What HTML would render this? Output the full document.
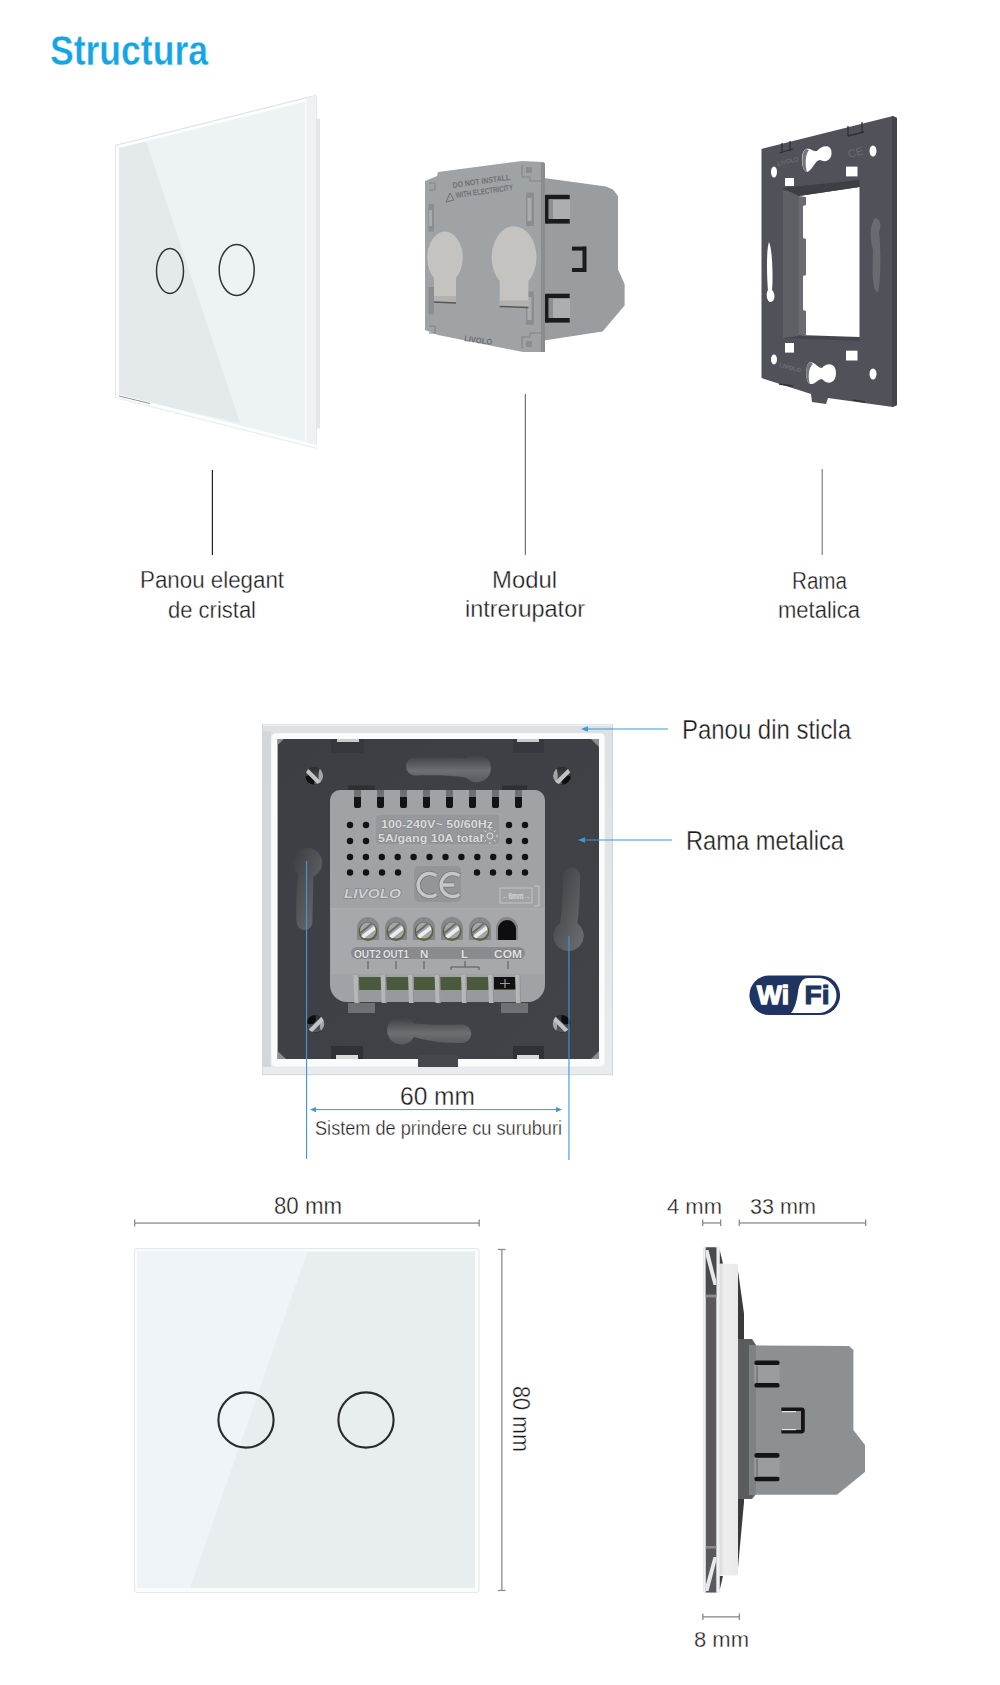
<!DOCTYPE html>
<html><head><meta charset="utf-8">
<style>
html,body{margin:0;padding:0;background:#fff;}
body{width:1000px;height:1685px;overflow:hidden;position:relative;}
svg{position:absolute;left:0;top:0;display:block;}
text{font-family:"Liberation Sans",sans-serif;}
</style></head>
<body>
<svg width="1000" height="1685" viewBox="0 0 1000 1685">
<defs>
<linearGradient id="khv" x1="0" y1="0" x2="0" y2="1"><stop offset="0" stop-color="#3a3b3f"/><stop offset="0.6" stop-color="#6e6f72"/><stop offset="1" stop-color="#58595c"/></linearGradient>
<linearGradient id="khd" x1="0" y1="0" x2="1" y2="1"><stop offset="0" stop-color="#3b3c40"/><stop offset="1" stop-color="#6e6f72"/></linearGradient>
<linearGradient id="kh" x1="0" y1="0" x2="0" y2="1"><stop offset="0" stop-color="#6c6d71"/><stop offset="1" stop-color="#5a5b5f"/></linearGradient>
<linearGradient id="khh" x1="0" y1="0" x2="1" y2="0"><stop offset="0" stop-color="#606165"/><stop offset="1" stop-color="#76777b"/></linearGradient>
<linearGradient id="plate" x1="0" y1="0" x2="1" y2="1"><stop offset="0" stop-color="#3d3e44"/><stop offset="1" stop-color="#424349"/></linearGradient>
<clipPath id="sc0"><circle cx="314.2" cy="775.8" r="8.9"/></clipPath>
<clipPath id="sc1"><circle cx="562" cy="775.8" r="8.9"/></clipPath>
<clipPath id="sc2"><circle cx="315.4" cy="1023.8" r="8.9"/></clipPath>
<clipPath id="sc3"><circle cx="561.6" cy="1023.8" r="8.9"/></clipPath>
<linearGradient id="scg" x1="0" y1="0" x2="0" y2="1"><stop offset="0" stop-color="#2b2c2f"/><stop offset="1" stop-color="#5c5d60"/></linearGradient>
<linearGradient id="glassg" x1="0" y1="0" x2="0" y2="1"><stop offset="0" stop-color="#dde1e4"/><stop offset="1" stop-color="#e9ecee"/></linearGradient>
<linearGradient id="wstrip" x1="0" y1="0" x2="1" y2="0"><stop offset="0" stop-color="#d9d9da"/><stop offset="0.25" stop-color="#eeeeef"/><stop offset="1" stop-color="#e9e9ea"/></linearGradient>
</defs>
<!-- TITLE -->
<text x="50" y="64.5" font-size="42.5" font-weight="bold" fill="#15a5e5" stroke="#fff" stroke-width="0.35" textLength="158" lengthAdjust="spacingAndGlyphs">Structura</text>

<!-- S1: PANEL -->
<g id="panel1">
<polygon points="316,118 320,119 320,428 316,429" fill="#e3e7e9"/>
<polygon points="115,145 316,95 317,448 115,397" fill="#edf2f5"/>
<polygon points="119,147 146,141 240,423 119,396" fill="#e4e9ec"/>
<polygon points="115,146 306,98.5 306,101.5 119,148" fill="#ffffff"/>
<line x1="115" y1="145.5" x2="316" y2="95.3" stroke="#dde2e5" stroke-width="1"/>
<polygon points="115,146 119,147 119,397 115,397" fill="#fafcfd"/>
<line x1="115.5" y1="146" x2="115.5" y2="397" stroke="#e1e6e9" stroke-width="1"/>
<polygon points="305.5,98.5 316,95.5 317,448 305.5,445.5" fill="#eef2f4"/>
<line x1="305.8" y1="99" x2="305.8" y2="445" stroke="#fbfcfd" stroke-width="1.2"/>
<line x1="316.5" y1="96" x2="316.5" y2="448" stroke="#e0e5e8" stroke-width="0.8"/>
<polygon points="115,397 317,448 317,445 119,394.5" fill="#fdfefe"/>
<line x1="115" y1="397.5" x2="317" y2="448.5" stroke="#dfe4e7" stroke-width="0.8"/>
<line x1="119" y1="396" x2="150" y2="403.5" stroke="#8f9599" stroke-width="1"/>
<ellipse cx="170" cy="271" rx="13.5" ry="22.5" fill="none" stroke="#333337" stroke-width="1.5"/>
<ellipse cx="236.7" cy="270" rx="17.5" ry="25.5" fill="none" stroke="#333337" stroke-width="1.5"/>
</g>
<!-- S1: MODULE -->
<g id="module1">
<polygon points="544,178 606,186.5 613,189.5 618,196 618,269.4 624.6,284 624.6,305.4 602.6,331.4 544,340.4" fill="#9a9da0"/>
<polygon points="425,181 437,176 438,172 522,161 544,162 544,352 523,352 438,335 425,330" fill="#a0a3a6"/>
<g fill="none" stroke="#7f8285" stroke-width="1">
<path d="M429,183 h6 v7 h-6"/><path d="M429,326 h6 v7 h-6"/>
<path d="M522,165 v12 h8 v4 h13"/><path d="M522,349 v-12 h8 v-4 h13"/>
</g>
<rect x="526" y="167" width="6" height="6" fill="#8a8d90"/><rect x="526" y="341" width="6" height="6" fill="#8a8d90"/>
<polygon points="541,163 545,163 545,352 541,352" fill="#8a8d90"/>
<rect x="428.4" y="204" width="5.6" height="27.6" fill="#8b8e91"/>
<rect x="428.4" y="287" width="5.6" height="27.4" fill="#8b8e91"/>
<rect x="526" y="192.5" width="8" height="33.5" fill="#8b8e91" rx="1"/>
<rect x="526" y="291.4" width="8" height="33.4" fill="#8b8e91" rx="1"/>
<rect x="429" y="210" width="3" height="16" fill="#a9abae"/>
<rect x="527.5" y="198" width="4" height="23" fill="#a9abae"/>
<rect x="527.5" y="297" width="4" height="23" fill="#a9abae"/>
<path d="M434,301.8 L434,278 A17.8,26 0 1 1 456,278 L456,301.8 Z" fill="#c4c3c0"/>
<path d="M499.7,306.4 L499.7,281 A22.4,31 0 1 1 528.4,281 L528.4,306.4 Z" fill="#c4c3c0"/>
<rect x="434" y="296" width="22" height="6" fill="#b3b2af"/>
<rect x="499.7" y="300.5" width="28.7" height="6" fill="#b3b2af"/>
<line x1="434" y1="302" x2="456" y2="303" stroke="#55585b" stroke-width="1.5"/>
<line x1="499.7" y1="306.5" x2="528.4" y2="307.5" stroke="#55585b" stroke-width="1.5"/>
<g fill="#1a1b1d">
<rect x="545.7" y="194.8" width="24" height="4.6"/>
<rect x="545.7" y="219" width="24" height="4.6"/>
<rect x="545" y="195" width="3.5" height="28.5"/>
<rect x="572" y="246.6" width="14" height="4"/>
<rect x="572" y="268" width="14" height="4"/>
<rect x="582.5" y="246.6" width="4" height="25.4"/>
<rect x="545.7" y="293.7" width="24" height="4.6"/>
<rect x="545.7" y="318" width="24" height="4.6"/>
<rect x="545" y="294" width="3.5" height="28.5"/>
</g>
<rect x="549" y="199.5" width="21" height="19.5" fill="#acafb1"/>
<rect x="549" y="298.5" width="21" height="19.5" fill="#acafb1"/>
<rect x="549" y="199.5" width="4" height="19.5" fill="#8c8f92"/>
<rect x="549" y="298.5" width="4" height="19.5" fill="#8c8f92"/>
<g fill="#6e7174" font-weight="bold">
<text x="453" y="188" font-size="8" transform="rotate(-8 453 188)" textLength="58" lengthAdjust="spacingAndGlyphs">DO NOT INSTALL</text>
<text x="456" y="198" font-size="8" transform="rotate(-8 456 198)" textLength="58" lengthAdjust="spacingAndGlyphs">WITH ELECTRICITY</text>
<text x="464" y="341" font-size="8" transform="rotate(8 464 341)" textLength="28" lengthAdjust="spacingAndGlyphs">LIVOLO</text>
</g>
<polygon points="446,202 450,193 454,200" fill="none" stroke="#6e7174" stroke-width="1"/>
</g>
<!-- S1: FRAME -->
<g id="frame1">
<polygon points="761.5,149 893,116 897,118 897,405 893,407 828,398 826,404 812,402 811,394 761.5,378" fill="#515259"/>
<polygon points="892,116 897,118 897,405 892,407" fill="#44454b"/>
<polygon points="783,188 859.5,180 859.5,341 783,338" fill="#45464c"/>
<polygon points="798.8,196 859.5,187 859.5,337 798.8,335" fill="#ffffff"/>
<polygon points="783,190 798.8,194 798.8,336 783,338" fill="#5e5f65"/>
<polygon points="798.8,196 806,197 806,205 803,206 803,238 806,239 806,275 803,276 803,310 806,311 806,335 798.8,335" fill="#6b6c72"/>
<polygon points="783,188 859.5,180 859.5,187 798.8,196" fill="#3e3f45"/>
<path d="M806,149 C811,148 813,152 817,151 C822,145 831,144 831.5,152 C832,160 826,163 820,160 C815,160 813,170 807,172 C801,171 800,151 806,149Z" fill="#ffffff"/><path d="M806,149 C801,151 801,171 807,172 C805,165 805,155 809,150Z" fill="#75767b"/>
<path d="M810,362 C816,363 818,368 822,368 C827,362 836,363 836,373 C836,384 827,385 822,379 C818,379 815,385 810,384 C805,382 805,364 810,362Z" fill="#ffffff"/><path d="M810,362 C805,364 805,382 810,384 C808,378 808,368 813,364Z" fill="#75767b"/>
<ellipse cx="873" cy="151" rx="3.5" ry="5.5" fill="#ffffff"/>
<ellipse cx="774" cy="172" rx="3" ry="5.5" fill="#ffffff"/>
<ellipse cx="873" cy="374" rx="3.5" ry="5.5" fill="#ffffff"/>
<ellipse cx="774" cy="359.5" rx="3" ry="5" fill="#ffffff"/>
<path d="M769,242 C773,250 773,285 772,290 C776,294 775,302 770,302 C766,300 766,293 768,290 C767,280 766,250 769,242Z" fill="#ffffff"/>
<path d="M875,218 C880,218 882,226 879,232 C881,250 881,280 878,292 C873,292 872,280 873,250 C870,240 869,226 875,218Z" fill="#6a6b71"/>
<rect x="785" y="178" width="9" height="8" fill="#ffffff"/>
<rect x="846" y="166.6" width="11.5" height="9.8" fill="#ffffff"/>
<rect x="785" y="343" width="9" height="9.6" fill="#ffffff"/>
<rect x="846" y="350.7" width="11.5" height="9.8" fill="#ffffff"/>
<g fill="none" stroke="#2f3035" stroke-width="1.3">
<path d="M779,153 L793,149"/><path d="M848,136 L864,132"/><path d="M779,384 L793,386"/><path d="M853,400 L865,402"/>
<path d="M782,143v10M790,141v10M848,126v10M862,122v10"/>
</g>
<text x="778" y="166" font-size="6" fill="#75767c" transform="rotate(-14 778 166)">LIVOLO</text>
<text x="849" y="158" font-size="11" fill="#6c6d73" transform="rotate(-14 849 158)">CE</text>
<text x="779" y="367" font-size="6" font-weight="bold" fill="#707177" transform="rotate(14 779 367)" textLength="22" lengthAdjust="spacingAndGlyphs">LIVOLO</text>
</g>

<!-- S1 LINES + LABELS -->
<g fill="#1a1a1a" font-size="24.5" stroke="#fff" stroke-width="0.35">
<rect x="211.8" y="470" width="1.2" height="85" fill="#222" stroke="none"/>
<rect x="524.8" y="394" width="1" height="161" fill="#555" stroke="none"/>
<rect x="821.7" y="469" width="1" height="86" fill="#666" stroke="none"/>
<text x="140" y="588" textLength="144" lengthAdjust="spacingAndGlyphs">Panou elegant</text>
<text x="168" y="618" textLength="88" lengthAdjust="spacingAndGlyphs">de cristal</text>
<text x="492" y="588" textLength="65" lengthAdjust="spacingAndGlyphs">Modul</text>
<text x="465" y="617" textLength="120" lengthAdjust="spacingAndGlyphs">intrerupator</text>
<text x="792" y="589" textLength="55" lengthAdjust="spacingAndGlyphs">Rama</text>
<text x="778" y="618" textLength="82" lengthAdjust="spacingAndGlyphs">metalica</text>
</g>

<!-- S2: BACK VIEW -->
<g id="back">
<rect x="262.4" y="724" width="350.6" height="351" fill="url(#glassg)"/>
<rect x="262.9" y="731" width="8" height="336" fill="#d3d7da"/>
<rect x="262.6" y="724.4" width="350" height="350.4" fill="none" stroke="#d0d4d7" stroke-width="0.9"/>
<rect x="263" y="724.5" width="349" height="1.2" fill="#f6f7f8"/>
<rect x="271" y="733" width="334" height="334" rx="5" fill="#fafbfb" stroke="#e3e6e8" stroke-width="0.6"/>
<rect x="277.6" y="739" width="321.4" height="320" fill="url(#plate)"/>
<rect x="418" y="1055" width="40" height="12" fill="#46474d"/>
<polygon points="277.6,739 284,739 277.6,745" fill="#8d8e92"/>
<polygon points="599,739 591,739 599,747" fill="#8d8e92"/>
<polygon points="277.6,1059 286,1059 277.6,1051" fill="#8d8e92"/>
<polygon points="599,1059 591,1059 599,1051" fill="#8d8e92"/>
<rect x="331" y="739" width="33" height="14" fill="#37383d"/>
<rect x="337" y="739" width="22" height="3" fill="#c9cacc"/>
<rect x="513" y="739" width="31" height="14" fill="#37383d"/>
<rect x="517" y="739" width="22" height="3" fill="#c9cacc"/>
<rect x="331" y="1046" width="32" height="13" fill="#303135"/>
<rect x="513" y="1046" width="31" height="13" fill="#303135"/>
<rect x="336" y="1055" width="22" height="4" fill="#d9dadc"/>
<rect x="517" y="1055" width="22" height="4" fill="#d9dadc"/>
<path d="M476.8,753.7 A14.3,14.3 0 1 1 466,777.5 C450,775 432,775 415,775.5 A9,9 0 0 1 415,757.5 C432,757 450,757 466,758.5 A14.3,14.3 0 0 1 476.8,753.7Z" fill="url(#khv)"/>
<path d="M401.5,1016 A14.3,14.3 0 0 1 414,1023.5 C430,1025 448,1025 462,1024.5 A9,9 0 0 1 462,1043 C448,1043 430,1042 414,1037 A14.3,14.3 0 1 1 401.5,1016Z" fill="url(#khv)"/>
<path d="M298,874.3 A14.85,14.85 0 1 1 313.5,876.3 C313,895 312.5,912 312.5,922 A8,8 0 0 1 296.5,922 C296,910 296,892 298,874.3Z" fill="url(#khd)"/>
<path d="M563,876 A8.5,8.5 0 0 1 580,876 C580,895 579,910 577.5,923.5 A15.2,15.2 0 1 1 560,923.2 C562,910 563,893 563,876Z" fill="url(#khd)"/>

<g clip-path="url(#sc0)"><circle cx="314.2" cy="775.8" r="8.9" fill="url(#scg)" stroke="#262629" stroke-width="1"/><circle cx="309.2" cy="780.8" r="5.5" fill="#0e0e10"/><ellipse cx="321.7" cy="775.8" rx="3.2" ry="9" fill="#a4a5a7"/><line x1="305.2" y1="768.8" x2="321.2" y2="784.8" stroke="#c2c3c4" stroke-width="4.2"/></g>
<g clip-path="url(#sc1)"><circle cx="562" cy="775.8" r="8.9" fill="url(#scg)" stroke="#262629" stroke-width="1"/><circle cx="567" cy="780.8" r="5.5" fill="#0e0e10"/><ellipse cx="554.5" cy="775.8" rx="3.2" ry="9" fill="#a4a5a7"/><line x1="555" y1="784.8" x2="571" y2="768.8" stroke="#c2c3c4" stroke-width="4.2"/></g>
<g clip-path="url(#sc2)"><circle cx="315.4" cy="1023.8" r="8.9" fill="url(#scg)" stroke="#262629" stroke-width="1"/><circle cx="310.4" cy="1018.8" r="5.5" fill="#0e0e10"/><ellipse cx="322.9" cy="1023.8" rx="3.2" ry="9" fill="#a4a5a7"/><line x1="308.4" y1="1032.8" x2="324.4" y2="1016.8" stroke="#c2c3c4" stroke-width="4.2"/></g>
<g clip-path="url(#sc3)"><circle cx="561.6" cy="1023.8" r="8.9" fill="url(#scg)" stroke="#262629" stroke-width="1"/><circle cx="566.6" cy="1018.8" r="5.5" fill="#0e0e10"/><ellipse cx="554.1" cy="1023.8" rx="3.2" ry="9" fill="#a4a5a7"/><line x1="552.6" y1="1016.8" x2="568.6" y2="1032.8" stroke="#c2c3c4" stroke-width="4.2"/></g>
<rect x="348" y="785.5" width="27" height="5" fill="#2e2f33"/><rect x="502" y="785.5" width="25" height="5" fill="#2e2f33"/>
<path d="M340,790 L535,790 A10,10 0 0 1 545,800 L545,985 A17,17 0 0 1 528,1002 L347,1002 A17,17 0 0 1 330,985 L330,800 A10,10 0 0 1 340,790Z" fill="#a0a2a5"/>
<rect x="330" y="908" width="215" height="2" fill="#a8aaad"/>
<rect x="331" y="910" width="213" height="64" fill="#a6a8ab"/>
<rect x="354" y="790" width="7" height="18" rx="2" fill="#141416"/><rect x="354" y="790" width="7" height="7" fill="#6e7073"/>
<rect x="377" y="790" width="7" height="18" rx="2" fill="#141416"/><rect x="377" y="790" width="7" height="7" fill="#6e7073"/>
<rect x="400" y="790" width="7" height="18" rx="2" fill="#141416"/><rect x="400" y="790" width="7" height="7" fill="#6e7073"/>
<rect x="423" y="790" width="7" height="18" rx="2" fill="#141416"/><rect x="423" y="790" width="7" height="7" fill="#6e7073"/>
<rect x="446" y="790" width="7" height="18" rx="2" fill="#141416"/><rect x="446" y="790" width="7" height="7" fill="#6e7073"/>
<rect x="469" y="790" width="7" height="18" rx="2" fill="#141416"/><rect x="469" y="790" width="7" height="7" fill="#6e7073"/>
<rect x="492" y="790" width="7" height="18" rx="2" fill="#141416"/><rect x="492" y="790" width="7" height="7" fill="#6e7073"/>
<rect x="515" y="790" width="7" height="18" rx="2" fill="#141416"/><rect x="515" y="790" width="7" height="7" fill="#6e7073"/>
<rect x="375" y="814" width="125" height="31" rx="4" fill="#96989b" stroke="#a9abae" stroke-width="0.8"/>
<g fill="#dadbdc" font-weight="bold" font-size="11.5" stroke="#808285" stroke-width="1.1" paint-order="stroke">
<text x="381" y="828" textLength="112" lengthAdjust="spacingAndGlyphs">100-240V~  50/60Hz</text>
<text x="378" y="842" textLength="105" lengthAdjust="spacingAndGlyphs">5A/gang 10A total</text>
</g>
<g fill="none" stroke="#dcdddf" stroke-width="1"><circle cx="490" cy="836" r="3"/><path d="M490,830v-2M490,842v2M484,836h-2M496,836h2M486,832l-1.5,-1.5M494,832l1.5,-1.5M486,840l-1.5,1.5M494,840l1.5,1.5"/></g>
<g fill="#121214">
<circle cx="350.0" cy="825" r="3.2"/>
<circle cx="366.0" cy="825" r="3.2"/>
<circle cx="509.0" cy="825" r="3.2"/>
<circle cx="525.0" cy="825" r="3.2"/>
<circle cx="350.0" cy="841" r="3.2"/>
<circle cx="366.0" cy="841" r="3.2"/>
<circle cx="509.0" cy="841" r="3.2"/>
<circle cx="525.0" cy="841" r="3.2"/>
<circle cx="350.0" cy="857" r="3.2"/>
<circle cx="365.9" cy="857" r="3.2"/>
<circle cx="381.8" cy="857" r="3.2"/>
<circle cx="397.7" cy="857" r="3.2"/>
<circle cx="413.6" cy="857" r="3.2"/>
<circle cx="429.5" cy="857" r="3.2"/>
<circle cx="445.5" cy="857" r="3.2"/>
<circle cx="461.4" cy="857" r="3.2"/>
<circle cx="477.3" cy="857" r="3.2"/>
<circle cx="493.2" cy="857" r="3.2"/>
<circle cx="509.1" cy="857" r="3.2"/>
<circle cx="525.0" cy="857" r="3.2"/>
<circle cx="350.0" cy="872.5" r="3.2"/>
<circle cx="366.0" cy="872.5" r="3.2"/>
<circle cx="382.0" cy="872.5" r="3.2"/>
<circle cx="398.0" cy="872.5" r="3.2"/>
<circle cx="477.0" cy="872.5" r="3.2"/>
<circle cx="493.0" cy="872.5" r="3.2"/>
<circle cx="509.0" cy="872.5" r="3.2"/>
<circle cx="525.0" cy="872.5" r="3.2"/>
</g>
<rect x="414" y="866" width="47" height="36" rx="5" fill="#939598"/>
<g fill="none" stroke="#75777a" stroke-width="5"><path d="M436.4,875.7 A11.5,11.5 0 1 0 436.4,894.3"/><path d="M459.4,875.7 A11.5,11.5 0 1 0 459.4,894.3M443,885h11"/></g><g fill="none" stroke="#c6c7c9" stroke-width="3.4"><path d="M436.4,875.7 A11.5,11.5 0 1 0 436.4,894.3"/><path d="M459.4,875.7 A11.5,11.5 0 1 0 459.4,894.3M443,885h11"/></g>
<text x="344" y="898" font-size="12.5" font-weight="bold" font-style="italic" fill="#d0d1d3" stroke="#76787b" stroke-width="1" paint-order="stroke" textLength="57" lengthAdjust="spacingAndGlyphs">LIVOLO</text>
<g fill="none" stroke="#c3c4c6" stroke-width="1"><rect x="500" y="888" width="32" height="15"/><path d="M534,886h5v20h-5"/></g>
<text x="502" y="899" font-size="8.5" font-weight="bold" fill="#d5d6d8" textLength="28" lengthAdjust="spacingAndGlyphs">←6mm→</text>

<path d="M357,940 L357,928 A11,11 0 0 1 379,928 L379,940 Z" fill="#85878a"/><circle cx="368" cy="931.5" r="9.5" fill="#55663f"/><circle cx="368" cy="930.5" r="8" fill="#a5a6a7"/><path d="M361,936 L374,926 L375.5,929.5 L364,938.5Z" fill="#ececec"/><path d="M360,932 L371,923 L373,924 L361,934Z" fill="#6b6c6e"/>
<path d="M385,940 L385,928 A11,11 0 0 1 407,928 L407,940 Z" fill="#85878a"/><circle cx="396" cy="931.5" r="9.5" fill="#55663f"/><circle cx="396" cy="930.5" r="8" fill="#a5a6a7"/><path d="M389,936 L402,926 L403.5,929.5 L392,938.5Z" fill="#ececec"/><path d="M388,932 L399,923 L401,924 L389,934Z" fill="#6b6c6e"/>
<path d="M413,940 L413,928 A11,11 0 0 1 435,928 L435,940 Z" fill="#85878a"/><circle cx="424" cy="931.5" r="9.5" fill="#55663f"/><circle cx="424" cy="930.5" r="8" fill="#a5a6a7"/><path d="M417,936 L430,926 L431.5,929.5 L420,938.5Z" fill="#ececec"/><path d="M416,932 L427,923 L429,924 L417,934Z" fill="#6b6c6e"/>
<path d="M441,940 L441,928 A11,11 0 0 1 463,928 L463,940 Z" fill="#85878a"/><circle cx="452" cy="931.5" r="9.5" fill="#55663f"/><circle cx="452" cy="930.5" r="8" fill="#a5a6a7"/><path d="M445,936 L458,926 L459.5,929.5 L448,938.5Z" fill="#ececec"/><path d="M444,932 L455,923 L457,924 L445,934Z" fill="#6b6c6e"/>
<path d="M469,940 L469,928 A11,11 0 0 1 491,928 L491,940 Z" fill="#85878a"/><circle cx="480" cy="931.5" r="9.5" fill="#55663f"/><circle cx="480" cy="930.5" r="8" fill="#a5a6a7"/><path d="M473,936 L486,926 L487.5,929.5 L476,938.5Z" fill="#ececec"/><path d="M472,932 L483,923 L485,924 L473,934Z" fill="#6b6c6e"/>
<path d="M496,940 L496,928 A11,11 0 0 1 518,928 L518,940 Z" fill="#85878a"/><path d="M498,940 L498,929 A9,9 0 0 1 516,929 L516,940 Z" fill="#0e0e10"/>
<rect x="351" y="947" width="174" height="12" rx="6" fill="#898b8e"/>
<g fill="#e0e1e2" font-size="11.5" font-weight="bold" stroke="#6d6f72" stroke-width="1" paint-order="stroke">
<text x="354" y="957.5" textLength="27" lengthAdjust="spacingAndGlyphs">OUT2</text>
<text x="383" y="957.5" textLength="26" lengthAdjust="spacingAndGlyphs">OUT1</text>
<text x="420" y="957.5">N</text>
<text x="461" y="957.5">L</text>
<text x="494" y="957.5" textLength="28" lengthAdjust="spacingAndGlyphs">COM</text>
</g>
<g stroke="#55575a" stroke-width="1" fill="none">
<path d="M368,961v8M396,961v8M424,961v8M508,961v8M465,961v6M451,970v-3h28v3"/>
</g>
<rect x="358" y="977" width="158" height="13" fill="#4b5a3c"/>
<rect x="494" y="977" width="22" height="12" fill="#111"/>
<path d="M505,979v9M500,983.5h10" stroke="#9a9c9f" stroke-width="1.2"/>
<rect x="358" y="990" width="158" height="12" fill="#97999c"/>

<path d="M353.4,975 L358.9,975 L359.4,1003 L354.4,1003Z" fill="#b4b6b8"/><path d="M357.9,975 L358.9,975 L359.4,1003 L358.4,1003Z" fill="#8d8f92"/><path d="M380.6,975 L386.1,975 L386.6,1003 L381.6,1003Z" fill="#b4b6b8"/><path d="M385.1,975 L386.1,975 L386.6,1003 L385.6,1003Z" fill="#8d8f92"/><path d="M408,975 L413.5,975 L414,1003 L409,1003Z" fill="#b4b6b8"/><path d="M412.5,975 L413.5,975 L414,1003 L413,1003Z" fill="#8d8f92"/><path d="M434.6,975 L440.1,975 L440.6,1003 L435.6,1003Z" fill="#b4b6b8"/><path d="M439.1,975 L440.1,975 L440.6,1003 L439.6,1003Z" fill="#8d8f92"/><path d="M461,975 L466.5,975 L467,1003 L462,1003Z" fill="#b4b6b8"/><path d="M465.5,975 L466.5,975 L467,1003 L466,1003Z" fill="#8d8f92"/><path d="M488,975 L493.5,975 L494,1003 L489,1003Z" fill="#b4b6b8"/><path d="M492.5,975 L493.5,975 L494,1003 L493,1003Z" fill="#8d8f92"/><path d="M515,975 L520.5,975 L521,1003 L516,1003Z" fill="#b4b6b8"/><path d="M519.5,975 L520.5,975 L521,1003 L520,1003Z" fill="#8d8f92"/>
<rect x="348" y="1003" width="27" height="10" fill="#6f7074"/>
<rect x="501" y="1003" width="27" height="10" fill="#6f7074"/>
</g>
<g id="blue" stroke="#3f98d3" fill="#3f98d3">
<rect x="306" y="861" width="1.1" height="298" stroke="none"/>
<rect x="568.4" y="936" width="1.1" height="224" stroke="none"/>
<line x1="314" y1="1109.6" x2="558" y2="1109.6" stroke-width="1"/>
<polygon points="310,1109.6 316,1107 316,1112.2" stroke="none"/>
<polygon points="562,1109.6 556,1107 556,1112.2" stroke="none"/>
<line x1="586" y1="729" x2="668" y2="729" stroke-width="1.2"/>
<polygon points="581,729 588,726.3 588,731.7" stroke="none"/>
<line x1="583" y1="840" x2="672" y2="840" stroke-width="1.2"/>
<polygon points="578,840 585,837.3 585,842.7" stroke="none"/>
</g>
<g fill="#1a1a1a" stroke="#fff" stroke-width="0.35">
<text x="682" y="739" font-size="27" textLength="169" lengthAdjust="spacingAndGlyphs">Panou din sticla</text>
<text x="686" y="850" font-size="27" textLength="158" lengthAdjust="spacingAndGlyphs">Rama metalica</text>
<text x="400" y="1105" font-size="25" textLength="75" lengthAdjust="spacingAndGlyphs">60 mm</text>
<text x="315" y="1134.5" font-size="19.5" textLength="247" lengthAdjust="spacingAndGlyphs">Sistem de prindere cu suruburi</text>
</g>

<!-- WIFI -->
<g id="wifi">
<rect x="749.4" y="975.5" width="90.7" height="39.5" rx="19.75" fill="#203462"/>
<path d="M808,978 L818,978 A18.5,17.5 0 0 1 818,1013 L791,1013 C795,1008 797,1000 798,992 C799,984 802,978 808,978Z" fill="#ffffff"/>
<text x="757" y="1004" font-size="26" font-weight="bold" fill="#ffffff" stroke="#ffffff" stroke-width="1.3" textLength="32" lengthAdjust="spacingAndGlyphs">Wi</text>
<text x="804.5" y="1004" font-size="26" font-weight="bold" fill="#203462" stroke="#203462" stroke-width="1.1" textLength="25" lengthAdjust="spacingAndGlyphs">Fi</text>
</g>

<!-- S3: FRONT PANEL -->
<g id="front">
<g fill="#8a8a8a">
<rect x="134.4" y="1222.4" width="345" height="1.3"/>
<rect x="134" y="1219.5" width="1.3" height="7"/>
<rect x="478.5" y="1219.5" width="1.3" height="7"/>
<rect x="501.2" y="1249.3" width="1.3" height="341"/>
<rect x="498" y="1248.8" width="7.5" height="1.3"/>
<rect x="498" y="1589.8" width="7.5" height="1.3"/>
</g>
<rect x="134.5" y="1248.5" width="344.5" height="344" rx="2.5" fill="#fbfcfc" stroke="#e3e7e9" stroke-width="1"/>
<rect x="137.5" y="1251.5" width="337.5" height="336.5" fill="#e8edf0"/>
<polygon points="137.5,1251.5 307.5,1251.5 190,1588 137.5,1588" fill="#eef4f7"/>
<circle cx="246" cy="1420" r="27.6" fill="none" stroke="#2a2a2d" stroke-width="2.1"/>
<circle cx="366" cy="1420" r="27.6" fill="none" stroke="#2a2a2d" stroke-width="2.1"/>
<text x="0" y="0" font-size="24" fill="#1a1a1a" stroke="#fff" stroke-width="0.35" textLength="66" lengthAdjust="spacingAndGlyphs" transform="translate(513,1386) rotate(90)">80 mm</text>
</g>
<g fill="#1a1a1a" stroke="#fff" stroke-width="0.35">
<text x="274" y="1214" font-size="24" textLength="68" lengthAdjust="spacingAndGlyphs">80 mm</text>
<text x="667" y="1214" font-size="21.5" textLength="55" lengthAdjust="spacingAndGlyphs">4 mm</text>
<text x="750" y="1214" font-size="21.5" textLength="66" lengthAdjust="spacingAndGlyphs">33 mm</text>
<text x="694" y="1646.5" font-size="22" textLength="55" lengthAdjust="spacingAndGlyphs">8 mm</text>
</g>
<!-- S3: SIDE VIEW -->
<g id="side">
<g fill="#8a8a8a">
<rect x="702.4" y="1222.3" width="18.2" height="1.3"/>
<rect x="702" y="1219.5" width="1.3" height="6.5"/>
<rect x="720" y="1219.5" width="1.3" height="6.5"/>
<rect x="739" y="1222.3" width="126.5" height="1.3"/>
<rect x="738.6" y="1219.5" width="1.3" height="6.5"/>
<rect x="865" y="1219.5" width="1.3" height="6.5"/>
<rect x="702.6" y="1616.2" width="36.7" height="1.3"/>
<rect x="702.2" y="1613.5" width="1.3" height="6.5"/>
<rect x="738.7" y="1613.5" width="1.3" height="6.5"/>
</g>
<polygon points="738,1270.8 744,1313.5 744,1502 738,1567.7" fill="#3a3a3d"/>
<rect x="703.4" y="1247" width="16.4" height="345.5" rx="1.5" fill="#eef1f3"/>
<rect x="703.4" y="1247" width="16.4" height="345.5" rx="1.5" fill="none" stroke="#d9dde0" stroke-width="0.6"/>
<rect x="705.8" y="1247.5" width="10.5" height="345" fill="#5a5a5d"/>
<rect x="705.8" y="1247.5" width="10.5" height="49" fill="#4b4b4e"/>
<polygon points="705.8,1250 708.5,1250 716.3,1281 716.3,1285 713.5,1285 705.8,1256" fill="#e6eaec"/>
<rect x="705.8" y="1294.6" width="10.5" height="2.8" fill="#8a8b8e"/>
<rect x="705.8" y="1546" width="10.5" height="2.6" fill="#8a8b8e"/>
<polygon points="716.3,1557 716.3,1561 708.5,1591 705.8,1591 705.8,1585 713.5,1557" fill="#e6eaec"/>
<polygon points="719.8,1250.5 723,1263.8 719.8,1263.8" fill="#3e3e41"/>
<polygon points="719.8,1576 723,1576 719.8,1589.4" fill="#3e3e41"/>
<rect x="719.8" y="1263.8" width="18.2" height="311.6" fill="url(#wstrip)"/>
<polygon points="738,1339 752,1339 756,1345 756,1494 752,1499 738,1499" fill="#5b5c60"/>
<polygon points="749,1345.3 849,1346 853.4,1350 853.4,1430 865,1445 865,1472 837,1494.7 749,1494.7" fill="#8d9093"/>
<rect x="749" y="1345.3" width="7" height="149" fill="#7f8285"/>
<rect x="754.4" y="1365" width="25.2" height="18" fill="#9a9c9f"/>
<rect x="754.4" y="1458" width="25.2" height="18.7" fill="#9a9c9f"/>
<rect x="756" y="1366" width="2" height="17" fill="#7b7d80"/>
<rect x="756" y="1459" width="2" height="17" fill="#7b7d80"/>
<g fill="#141416">
<rect x="754.4" y="1360.6" width="25.2" height="4.5" rx="2.2"/>
<rect x="754.4" y="1383" width="25.2" height="4.6" rx="2.2"/>
<rect x="754.4" y="1453" width="25.2" height="4.8" rx="2.2"/>
<rect x="754.4" y="1476.7" width="25.2" height="4.5" rx="2.2"/>
<path d="M781.4,1407.4 h20 a3.4,3.4 0 0 1 3.4,3.4 v19.3 a3.4,3.4 0 0 1 -3.4,3.4 h-20 v-3.5 h19.6 v-19.1 h-19.6z"/>
</g>
<rect x="782" y="1411" width="14" height="1.2" fill="#e8e8e8"/>
<rect x="782" y="1429" width="14" height="1.2" fill="#e8e8e8"/>
</g>
</svg>
</body></html>
